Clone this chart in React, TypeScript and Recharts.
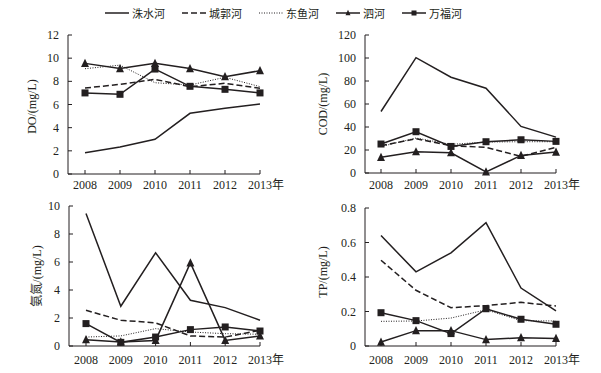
import { LineChart, Line, XAxis, YAxis, Label } from 'recharts'

const years = ['2008', '2009', '2010', '2011', '2012', '2013']
const yearUnit = '年'
const rivers = ['洙水河', '城郭河', '东鱼河', '泗河', '万福河']

// DO (mg/L)
const zhushuiDO = [1.84, 2.33, 3.0, 5.24, 5.67, 6.04]
const chengguoDO = [7.42, 7.74, 8.17, 7.54, 7.83, 7.4]
const dongyuDO = [9.09, 9.4, 7.88, 7.68, 8.35, 7.54]
const siheDO = [9.55, 9.1, 9.55, 9.1, 8.4, 8.92]
const wanfuDO = [7.0, 6.88, 9.06, 7.57, 7.31, 7.0]
const doTicks = [0, 2, 4, 6, 8, 10, 12]

// COD (mg/L)
const zhushuiCOD = [53.5, 100.3, 83.3, 73.7, 40.5, 31.2]
const chengguoCOD = [23.7, 29.8, 23.7, 22.3, 14.5, 22.3]
const dongyuCOD = [23, 30.4, 24.9, 26.9, 27.2, 27.2]
const siheCOD = [13.6, 18.5, 17.6, 0.9, 15.3, 18.2]
const wanfuCOD = [25.2, 35.9, 23.1, 27.2, 28.9, 27.5]
const codTicks = [0, 20, 40, 60, 80, 100, 120]

// 氨氮 (mg/L)
const zhushuiNH = [9.47, 2.84, 6.66, 3.27, 2.74, 1.84]
const chengguoNH = [2.55, 1.84, 1.65, 0.72, 0.64, 1.12]
const dongyuNH = [0.64, 0.72, 1.24, 1.0, 0.88, 0.84]
const siheNH = [0.45, 0.29, 0.4, 5.94, 0.4, 0.72]
const wanfuNH = [1.6, 0.26, 0.64, 1.17, 1.36, 1.07]
const nhTicks = [0, 2, 4, 6, 8, 10]

// TP (mg/L)
const zhushuiTP = [0.64, 0.43, 0.54, 0.715, 0.336, 0.203]
const chengguoTP = [0.497, 0.323, 0.222, 0.234, 0.253, 0.232]
const dongyuTP = [0.143, 0.145, 0.162, 0.21, 0.147, 0.145]
const siheTP = [0.023, 0.089, 0.089, 0.037, 0.048, 0.044]
const wanfuTP = [0.193, 0.147, 0.072, 0.216, 0.155, 0.126]
const tpTicks = [0, 0.2, 0.4, 0.6, 0.8]

const INK = '#231f20'
const FONT = '"Liberation Serif", "Noto Sans CJK SC", serif'

function makeRows(series: number[][]) {
  return years.map((year, i) => {
    const row: Record<string, any> = { year }
    series.forEach((s, k) => {
      row['s' + k] = s[i]
    })
    return row
  })
}

const lineStyles = [
  { dash: undefined, width: 1.5, marker: 'none' },
  { dash: '6 3', width: 1.5, marker: 'none' },
  { dash: '1 1.5', width: 1, marker: 'none' },
  { dash: undefined, width: 1.5, marker: 'tri' },
  { dash: undefined, width: 1.5, marker: 'sq' },
]

function Marker({ cx, cy, kind, size }: { cx: number; cy: number; kind: string; size: number }) {
  if (kind === 'tri') {
    const h = size * 0.9
    return (
      <polygon
        points={`${cx},${cy - h / 2 - 1} ${cx - size / 2},${cy + h / 2} ${cx + size / 2},${cy + h / 2}`}
        fill={INK}
      />
    )
  }
  if (kind === 'sq') {
    return <rect x={cx - size / 2} y={cy - size / 2} width={size} height={size} fill={INK} />
  }
  return null
}

function XTick(props: any) {
  const { x, y, payload, index, labelDy } = props
  const last = index === years.length - 1
  return (
    <g>
      <line x1={x} y1={y} x2={x} y2={y - 4} stroke={INK} />
      <text x={x} y={y + labelDy} textAnchor="middle" fontSize={12} fill={INK} fontFamily={FONT}>
        {payload.value}
      </text>
      {last && (
        <text x={x + 12} y={y + labelDy} textAnchor="start" fontSize={12} fill={INK} fontFamily={FONT}>
          {yearUnit}
        </text>
      )}
    </g>
  )
}

function YTick(props: any) {
  const { x, y, payload } = props
  return (
    <g>
      <line x1={x} y1={y} x2={x + 4} y2={y} stroke={INK} />
      <text x={x - 9} y={y + 4} textAnchor="end" fontSize={12} fill={INK} fontFamily={FONT}>
        {payload.value}
      </text>
    </g>
  )
}

interface PanelProps {
  left: number
  top: number
  width: number
  height: number
  margin: { top: number; right: number; left: number; bottom: number }
  padLeft: number
  xHeight: number
  labelDy: number
  series: number[][]
  ticks: number[]
  title: string
  titleX: number
  titleDy: number
}

function Panel(p: PanelProps) {
  const data = makeRows(p.series)
  return (
    <div style={{ position: 'absolute', left: p.left, top: p.top }}>
      <LineChart width={p.width} height={p.height} data={data} margin={p.margin}>
        <XAxis
          dataKey="year"
          height={p.xHeight}
          padding={{ left: p.padLeft, right: 0 }}
          axisLine={{ stroke: INK }}
          tickLine={false}
          tickSize={0}
          tickMargin={0}
          interval={0}
          tick={(tp: any) => <XTick {...tp} labelDy={p.labelDy} />}
        />
        <YAxis
          width={40}
          domain={[p.ticks[0], p.ticks[p.ticks.length - 1]]}
          ticks={p.ticks}
          interval={0}
          axisLine={{ stroke: INK }}
          tickLine={false}
          tickSize={0}
          tickMargin={0}
          tick={(tp: any) => <YTick {...tp} />}
        >
          <Label
            content={({ viewBox }: any) => {
              const cy = viewBox.y + viewBox.height / 2 + p.titleDy
              return (
                <text
                  x={p.titleX}
                  y={cy}
                  transform={`rotate(-90, ${p.titleX}, ${cy})`}
                  textAnchor="middle"
                  dominantBaseline="central"
                  fontSize={12}
                  fill={INK}
                  fontFamily={FONT}
                >
                  {p.title}
                </text>
              )
            }}
          />
        </YAxis>
        {lineStyles.map((st, k) => (
          <Line
            key={k}
            dataKey={'s' + k}
            name={rivers[k]}
            type="linear"
            stroke={INK}
            strokeWidth={st.width}
            strokeDasharray={st.dash}
            isAnimationActive={false}
            activeDot={false}
            dot={
              st.marker === 'none'
                ? false
                : (dp: any) => (
                    <Marker key={dp.index} cx={dp.cx} cy={dp.cy} kind={st.marker} size={st.marker === 'tri' ? 8 : 7} />
                  )
            }
          />
        ))}
      </LineChart>
    </div>
  )
}

function Legend() {
  return (
    <div
      style={{
        position: 'absolute',
        left: 105,
        top: 5,
        display: 'flex',
        alignItems: 'center',
        fontFamily: FONT,
        fontSize: 11,
        color: INK,
        whiteSpace: 'nowrap',
      }}
    >
      {rivers.map((r, k) => {
        const st = lineStyles[k]
        return (
          <div key={r} style={{ display: 'flex', alignItems: 'center', marginRight: 17 }}>
            <svg width={24} height={12}>
              <line x1={0} y1={6} x2={24} y2={6} stroke={INK} strokeWidth={st.width} strokeDasharray={st.dash} />
              <Marker cx={12} cy={6} kind={st.marker} size={5} />
            </svg>
            <span style={{ marginLeft: 3 }}>{r}</span>
          </div>
        )
      })}
    </div>
  )
}

export default function App() {
  return (
    <div style={{ position: 'absolute', left: 0, top: 0, width: 601, height: 373, background: '#fff', overflow: 'hidden' }}>
      <Legend />
      <Panel
        left={0}
        top={20}
        width={300}
        height={190}
        margin={{ top: 15, right: 40, left: 28, bottom: 6 }}
        padLeft={17}
        xHeight={30}
        labelDy={15}
        series={[zhushuiDO, chengguoDO, dongyuDO, siheDO, wanfuDO]}
        ticks={doTicks}
        title="DO/(mg/L)"
        titleX={32}
        titleDy={2}
      />
      <Panel
        left={300}
        top={20}
        width={301}
        height={190}
        margin={{ top: 15, right: 45, left: 25, bottom: 7 }}
        padLeft={16}
        xHeight={30}
        labelDy={16}
        series={[zhushuiCOD, chengguoCOD, dongyuCOD, siheCOD, wanfuCOD]}
        ticks={codTicks}
        title="COD/(mg/L)"
        titleX={23}
        titleDy={0}
      />
      <Panel
        left={0}
        top={190}
        width={300}
        height={183}
        margin={{ top: 16, right: 40, left: 29, bottom: 7 }}
        padLeft={17}
        xHeight={20}
        labelDy={18}
        series={[zhushuiNH, chengguoNH, dongyuNH, siheNH, wanfuNH]}
        ticks={nhTicks}
        title="氨氮/(mg/L)"
        titleX={37}
        titleDy={0}
      />
      <Panel
        left={300}
        top={190}
        width={301}
        height={183}
        margin={{ top: 18, right: 45, left: 25, bottom: 7 }}
        padLeft={16}
        xHeight={20}
        labelDy={18}
        series={[zhushuiTP, chengguoTP, dongyuTP, siheTP, wanfuTP]}
        ticks={tpTicks}
        title="TP/(mg/L)"
        titleX={23}
        titleDy={-5}
      />
    </div>
  )
}
